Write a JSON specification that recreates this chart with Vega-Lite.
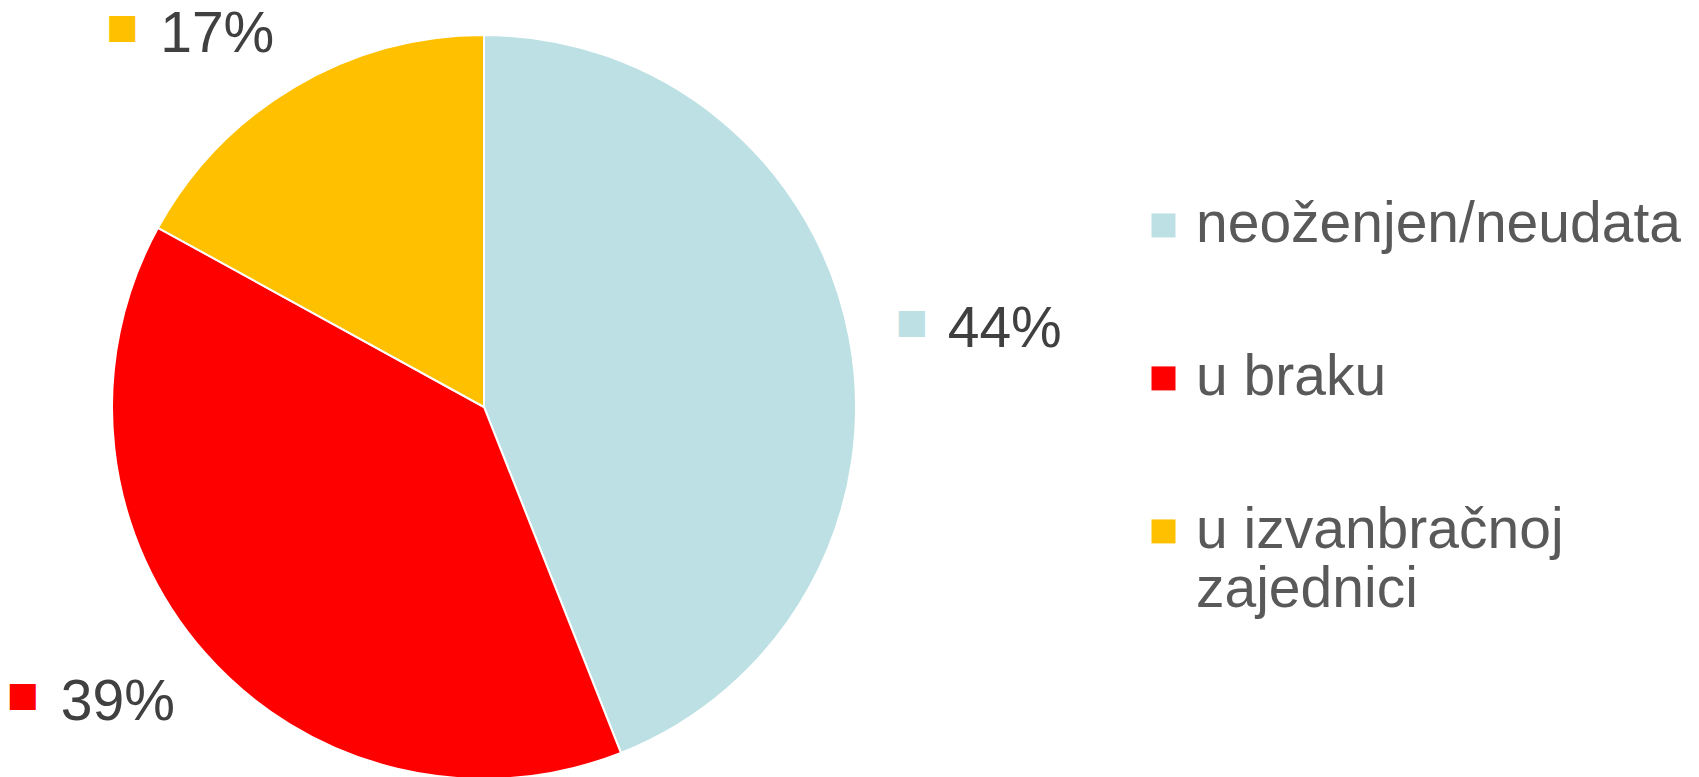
{
  "$schema": "https://vega.github.io/schema/vega-lite/v6.json",
  "width": 968,
  "height": 814,
  "padding": 0,
  "autosize": {"type": "pad"},
  "background": "white",
  "config": {"view": {"stroke": null}, "font": "Liberation Sans"},
  "data": {
    "values": [
      {"category": "neoženjen/neudata", "share": 0.44},
      {"category": "u braku", "share": 0.39},
      {"category": "u izvanbračnoj zajednici", "share": 0.17}
    ]
  },
  "encoding": {
    "theta": {"field": "share", "type": "quantitative", "stack": true}
  },
  "layer": [
    {
      "mark": {"type": "arc", "outerRadius": 372, "stroke": "white", "strokeWidth": 2},
      "encoding": {
        "order": {"field": "category", "type": "ordinal", "sort": "ascending"},
        "color": {
          "field": "category",
          "type": "nominal",
          "scale": {
            "domain": ["neoženjen/neudata", "u braku", "u izvanbračnoj zajednici"],
            "range": ["#BCE0E3", "#FF0000", "#FFC000"]
          },
          "legend": {
            "orient": "none",
            "legendX": 1135,
            "legendY": 168,
            "title": null,
            "padding": 0,
            "symbolType": "M-1,1.41L1,1.41L1,3.41L-1,3.41Z",
            "symbolSize": 576,
            "symbolStrokeWidth": 0,
            "symbolOpacity": 1,
            "labelFontSize": 57,
            "labelFont": "Liberation Sans",
            "labelColor": "#595959",
            "labelBaseline": "top",
            "labelOffset": 4,
            "labelLimit": 800,
            "rowPadding": 68,
            "labelExpr": "datum.label == 'u izvanbračnoj zajednici' ? ['u izvanbračnoj', 'zajednici'] : datum.label"
          }
        }
      }
    },
    {
      "mark": {
        "type": "text",
        "radius": 412,
        "text": "■",
        "font": "DejaVu Sans",
        "fontSize": 34,
        "baseline": "alphabetic",
        "align": {"expr": "(datum.share_start + datum.share_end) < 1 ? 'left' : 'right'"},
        "dx": {"expr": "(datum.share_start + datum.share_end) < 1 ? 7 : -136"},
        "dy": {"expr": "(cos(PI*(datum.share_start + datum.share_end)) > 0.5 ? 0 : cos(PI*(datum.share_start + datum.share_end)) < -0.5 ? 41 : 17) - 14"}
      },
      "encoding": {
        "order": {"field": "category", "type": "ordinal", "sort": "ascending"},
        "color": {"field": "category", "type": "nominal"}
      }
    },
    {
      "mark": {
        "type": "text",
        "radius": 412,
        "fontSize": 57,
        "font": "Liberation Sans",
        "fill": "#404040",
        "baseline": "alphabetic",
        "align": {"expr": "(datum.share_start + datum.share_end) < 1 ? 'left' : 'right'"},
        "dx": {"expr": "(datum.share_start + datum.share_end) < 1 ? 59 : 0"},
        "dy": {"expr": "cos(PI*(datum.share_start + datum.share_end)) > 0.5 ? 0 : cos(PI*(datum.share_start + datum.share_end)) < -0.5 ? 41 : 17"}
      },
      "encoding": {
        "order": {"field": "category", "type": "ordinal", "sort": "ascending"},
        "detail": {"field": "category", "type": "nominal"},
        "text": {"field": "share", "type": "quantitative", "format": ".0%"}
      }
    }
  ]
}
